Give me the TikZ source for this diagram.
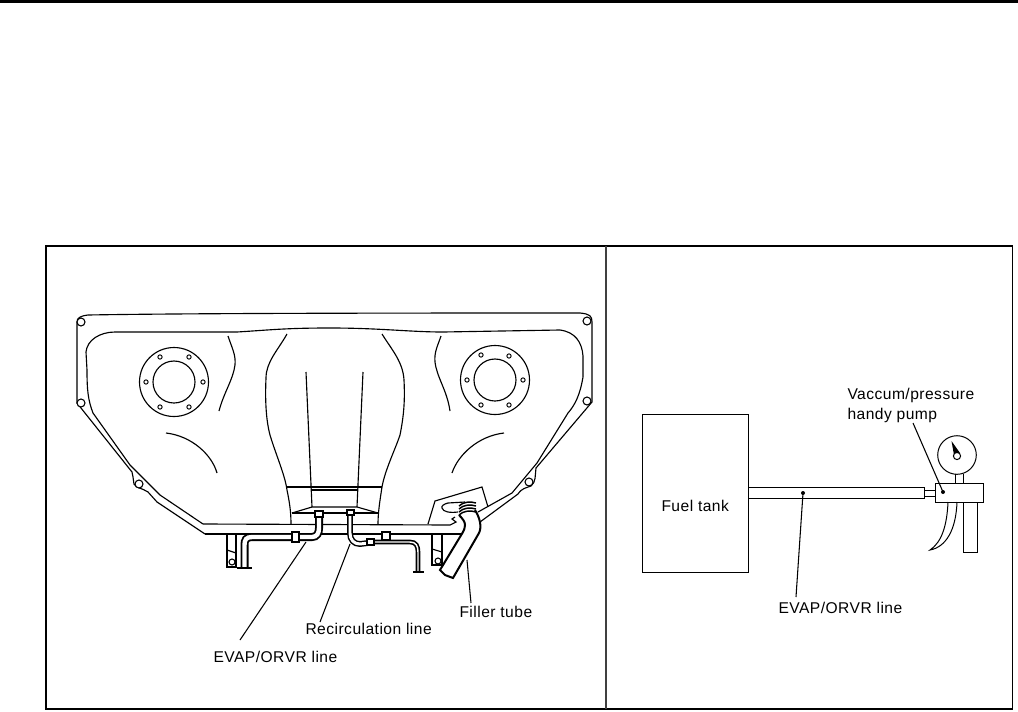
\documentclass[tikz,border=0pt]{standalone}
\usepackage{fontspec}
\setmainfont[LetterSpace=3]{Liberation Sans}
\tikzset{every picture/.style={line width=0.75pt}}
\tikzset{
  tube/.style={line width=1.35pt, double=white, double distance=3.3pt},
  thintube/.style={line width=1.1pt, double=white, double distance=2.2pt},
  narrowtube/.style={line width=1.2pt, double=white, double distance=1.1pt},
  partline/.style={line width=0.85pt},
  setupline/.style={line width=0.75pt},
  leader/.style={line width=0.8pt},
  callout/.style={anchor=north west, inner sep=0pt, font=\fontsize{11.7pt}{14pt}\selectfont, align=left},
  boltdot/.style={circle, draw, fill=white, inner sep=0pt, minimum size=3.2pt, line width=0.7pt},
  lughole/.style={circle, draw, fill=white, inner sep=0pt, minimum size=6pt, line width=0.8pt}
}
\begin{document}
\begin{tikzpicture}[x=0.75pt,y=0.75pt,yscale=-1,xscale=1]
\useasboundingbox (0,0) rectangle (1018,711);

% top rule and frame
\fill (0,0) rectangle (1018,3);
\draw [line width=1.4pt] (46,246) rectangle (1012.5,709);
\draw [line width=1pt, black!75] (606,246) -- (606,709);

% tank outer edge
\draw [partline] (205,534) -- (157,502) -- (148,492) .. controls (142,488) and (136,488) .. (134,484) .. controls (133,478) and (133,475) .. (132,472) -- (77,403) -- (77,322) .. controls (77,318) and (80,316) .. (88,315) .. controls (200,313) and (450,313) .. (580,313) .. controls (590,314) and (592,316) .. (592,322) -- (592,402) -- (536,468) .. controls (535,476) and (536,482) .. (531,486) .. controls (526,488) and (522,488) .. (518,494) -- (480,522);
% tank inner edge
\draw [partline] (203,524) -- (160,495) -- (130,465) -- (93,413) .. controls (88,400) and (87,390) .. (87,370) -- (86,352) .. controls (87,340) and (100,332) .. (115,332) -- (237,332) .. controls (270,330) and (285,328) .. (330,328) .. controls (380,328) and (410,332) .. (443,332) -- (560,330) .. controls (575,332) and (582,342) .. (583,356) -- (583,377) .. controls (580,395) and (575,405) .. (568,413) -- (537,463) -- (512,493) -- (478,512);
% lower band
\draw [partline] (205,534) -- (463,534);
\draw [partline] (203,524) -- (450,525) -- (456,522) -- (452,519) -- (455,517);

% fuel gauge flanges
\draw [partline] (174,382) circle [radius=34.5] (174,382) circle [radius=21];
\draw [partline] (495,380) circle [radius=34.5] (495,380) circle [radius=21];
\foreach \px/\py in {146/382,203/382,160/357,189/357,160/407,189/407,467/380,523/380,481/355,509/356,481/405,509/405}
  \node [boltdot] (bolt\px) at (\px,\py) {};
\foreach \px/\py in {81/322,81/403,139/484,587/321,587/401,529/482}
  \node [lughole] (lug\px) at (\px,\py) {};

% body contours
\draw [partline] (228,336) .. controls (232,348) and (236,355) .. (235,365) .. controls (233,380) and (224,392) .. (219,411);
\draw [partline] (287,334) .. controls (278,350) and (266,362) .. (266,378) .. controls (265,400) and (266,420) .. (270,435) .. controls (276,455) and (285,475) .. (287,490) .. controls (289,500) and (291,510) .. (291,524);
\draw [partline] (306,372) -- (312,507);
\draw [partline] (363,372) -- (357,507);
\draw [partline] (382,334) .. controls (392,350) and (403,362) .. (404,380) .. controls (405,400) and (404,415) .. (400,435) .. controls (395,450) and (385,470) .. (382,487) .. controls (380,500) and (378,512) .. (378,524);
\draw [partline] (441,336) .. controls (438,345) and (434,352) .. (435,362) .. controls (437,378) and (447,390) .. (450,411);
\draw [partline] (166,433) .. controls (192,436) and (212,455) .. (217,473);
\draw [partline] (504,433) .. controls (478,436) and (458,455) .. (452,473);
% centre recess
\draw [partline] (286,487) -- (382,487);
\draw [partline] (312,490) -- (357,490);
\draw [partline] (292,513) -- (312,507) -- (357,507) -- (378,513);
\draw [partline] (292,513) -- (378,513);

% filler neck plate
\draw [partline] (428,524) -- (435,501) -- (482,487) -- (488,507);
\draw [partline] (465,502) -- (448,503) .. controls (444,504) and (441,506) .. (442,508) .. controls (443,512) and (450,513) .. (458,512);

% brackets
\draw [partline] (227,535) -- (227,567) -- (236,567) -- (236,535);
\draw [partline] (227,550) -- (236,553);
\draw [partline] (432,535) -- (432,565) -- (442,565) -- (442,535);
\draw [partline] (432,549) -- (442,552);
\node [lughole, minimum size=4.5pt] (brktL) at (232,562) {};
\node [lughole, minimum size=4.5pt] (brktR) at (438,561) {};

% evap line on the tank
\draw [tube] (244.5,568) -- (244.5,545) .. controls (244.5,540) and (246,537) .. (252,537) -- (312,537) .. controls (317,537) and (319,533) .. (319,528) -- (319,516);
\draw [partline, fill=white] (292,532) rectangle (299,542);
\draw [partline, fill=white] (315,511) rectangle (323,517);
\draw [partline] (237,568) -- (252,568);

% recirculation line
\draw [partline, fill=white] (382,532) rectangle (390,540);
\draw [thintube] (350,515) -- (350,533) .. controls (350,540) and (354,544) .. (360,544) -- (368,543);
\draw [partline, fill=white] (347,510) rectangle (354,515);
\draw [narrowtube] (373,542) -- (410,542) .. controls (416,542) and (418,546) .. (418,552) -- (418,572);
\draw [partline, fill=white] (367,539) rectangle (374,545);
\draw [partline] (413,572) -- (424,572);

% filler tube
\draw [line width=1.5pt, fill=white] (459,515) .. controls (463,519) and (465,522) .. (465,525) .. controls (465,528) and (464,530) .. (463,532) -- (440,570) -- (445,575) -- (453,578) -- (479,533) .. controls (482,527) and (480,518) .. (475,510);
\foreach \qy in {505,508,511,514}
  \draw [line width=1.1pt] (459,\qy+1) .. controls (463,\qy-3) and (470,\qy-4) .. (476,\qy-2);

% leaders
\coordinate (evapTank) at (306,542);
\coordinate (recircTank) at (350,544);
\coordinate (fillerTank) at (467,560);
\coordinate (evapHose) at (803,493);
\coordinate (pumpBody) at (943,492);
\node [callout] (labEvapL) at (213,650.5) {EVAP/ORVR line};
\node [callout] (labRecirc) at (305,623) {Recirculation line};
\node [callout] (labFiller) at (459,606) {Filler tube};
\draw [leader] (evapTank) -- (240,640);
\draw [leader] (recircTank) -- (320,622);
\draw [leader] (fillerTank) -- (471,603);

% right panel: test set-up
\node [draw, setupline, minimum width=79.5pt, minimum height=118.5pt, inner sep=0pt] (tank) at (695,493) {};
\node [callout] (labTank) at (661,500) {Fuel tank};
\draw [setupline] (748,487) rectangle (924,498);
\draw [setupline] (924,490) rectangle (935,496);
\draw [setupline] (935,483) rectangle (983,502);
\draw [setupline] (957,455) circle [radius=19.3];
\draw [setupline] (955,474) -- (955,483) (963,474) -- (963,483);
\fill (951.5,441) -- (960,453) -- (954,455) -- cycle;
\draw [setupline, fill=white] (957,456) circle [radius=3.6];
\draw [setupline] (963,502) -- (963,552) -- (977,552) -- (977,502);
\draw [setupline] (948,502) .. controls (947,525) and (942,542) .. (930,550) .. controls (946,547) and (956,530) .. (957,502);
\fill (evapHose) circle [radius=2];
\fill (pumpBody) circle [radius=2];
\node [callout] (labEvapR) at (778,602) {EVAP/ORVR line};
\node [callout] (labPump) at (847,388) {Vaccum/pressure\\[1pt]handy pump};
\draw [leader] (evapHose) -- (796,597);
\draw [leader] (913,423) -- (pumpBody);
\end{tikzpicture}
\end{document}
